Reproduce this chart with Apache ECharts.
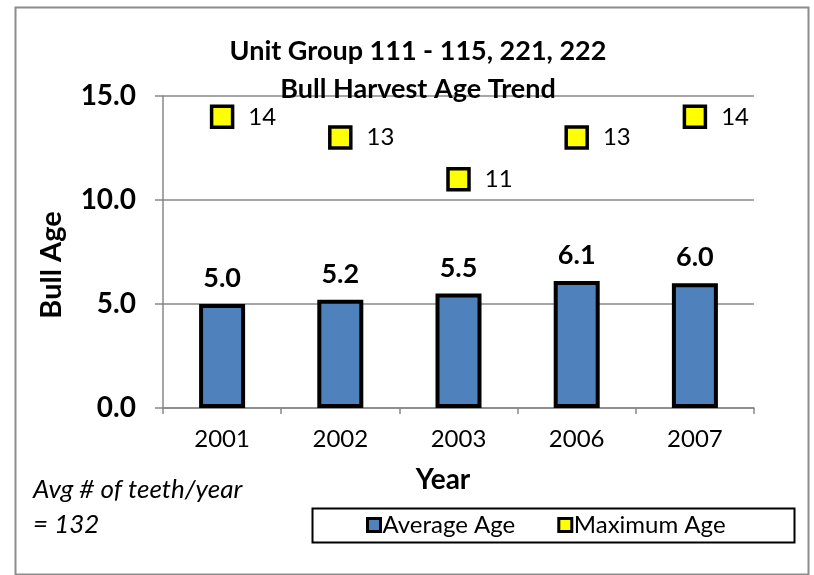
<!DOCTYPE html>
<html>
<head>
<meta charset="utf-8">
<script src="https://cdn.jsdelivr.net/npm/echarts@6/dist/echarts.min.js"></script>
<style>html,body{margin:0;padding:0;background:#fff}#c{width:814px;height:575px}</style>
</head>
<body>
<div id="c"></div>
<script>
const years = ['2001', '2002', '2003', '2006', '2007'];
const averageAge = [5.0, 5.2, 5.5, 6.1, 6.0];
const maximumAge = [14, 13, 11, 13, 14];
const yTicks = { min: 0, max: 15, interval: 5 };
const titleLines = ['Unit Group 111 - 115, 221, 222', 'Bull Harvest Age Trend'];
const noteLines = ['Avg # of teeth/year', '= 132'];

const FONT = 'Lato';
const chart = echarts.init(document.getElementById('c'), null, { renderer: 'canvas' });
chart.setOption({
  animation: false,
  backgroundColor: '#fff',
  textStyle: { fontFamily: FONT, color: '#000' },
  title: {
    text: titleLines.join('\n'),
    left: 413, top: 27, textAlign: 'center',
    textStyle: { fontFamily: FONT, fontWeight: 'bold', fontSize: 27, lineHeight: 38, color: '#000' }
  },
  grid: { left: 163, right: 60, top: 96, bottom: 167, containLabel: false },
  legend: {
    left: 361, top: 508,
    itemGap: 42, itemWidth: 13, itemHeight: 13,
    icon: 'rect',
    textStyle: { fontFamily: FONT, fontSize: 24, color: '#000', padding: [0, 0, 0, -3] },
    data: [
      { name: 'Average Age', itemStyle: { color: '#4F81BD', borderColor: '#000', borderWidth: 3 } },
      { name: 'Maximum Age', itemStyle: { color: '#FFFF00', borderColor: '#000', borderWidth: 3 } }
    ]
  },
  xAxis: {
    type: 'category', data: years, boundaryGap: true,
    axisLine: { lineStyle: { color: '#888', width: 1.5 } },
    axisTick: { show: true, length: 6, alignWithLabel: false, lineStyle: { color: '#888', width: 1.5 } },
    axisLabel: { fontFamily: FONT, fontSize: 24, color: '#000', margin: 19 }
  },
  yAxis: {
    type: 'value', min: yTicks.min, max: yTicks.max, interval: yTicks.interval,
    axisLine: { show: true, lineStyle: { color: '#888', width: 1.5 } },
    axisTick: { show: true, length: 8, lineStyle: { color: '#888', width: 1.5 } },
    splitLine: { show: true, lineStyle: { color: '#888', width: 1.5 } },
    axisLabel: { fontFamily: FONT, fontSize: 28, fontWeight: 'bold', color: '#000', margin: 27,
      formatter: v => v.toFixed(1) }
  },
  series: [
    {
      name: 'Average Age', type: 'bar', data: averageAge, barWidth: 46,
      itemStyle: { color: '#4F81BD', borderColor: '#000', borderWidth: 4 },
      label: { show: true, position: 'top', distance: 12, fontFamily: FONT, fontSize: 27, fontWeight: 'bold', color: '#000',
        formatter: p => p.value.toFixed(1) }
    },
    {
      name: 'Maximum Age', type: 'scatter', data: maximumAge, symbol: 'rect', symbolSize: 21,
      itemStyle: { color: '#FFFF00', borderColor: '#000', borderWidth: 3.5, opacity: 1 },
      label: { show: true, position: 'right', distance: 14, fontFamily: FONT, fontSize: 24, color: '#000',
        formatter: p => String(p.value) }
    }
  ],
  graphic: [
    { type: 'rect', left: 13, top: 5, shape: { width: 793, height: 567 }, z: -10, silent: true,
      style: { fill: 'none', stroke: '#8c8c8c', lineWidth: 2 } },
    { type: 'rect', left: 310, top: 506, shape: { width: 482, height: 34 }, silent: true,
      style: { fill: 'none', stroke: '#000', lineWidth: 2 } },
    { type: 'text', left: 33, top: 477, silent: true,
      style: { text: noteLines[0], font: 'italic 26px ' + FONT, fill: '#000' } },
    { type: 'text', left: 33, top: 512, silent: true,
      style: { text: noteLines[1], font: 'italic 26px ' + FONT, fill: '#000' } },
    { type: 'text', x: 443, y: 480, silent: true,
      style: { text: 'Year', font: 'bold 28px ' + FONT, fill: '#000', textAlign: 'center', textVerticalAlign: 'middle' } },
    { type: 'text', x: 52, y: 265, rotation: Math.PI / 2, silent: true,
      style: { text: 'Bull Age', font: 'bold 29px ' + FONT, fill: '#000', textAlign: 'center', textVerticalAlign: 'middle' } }
  ]
});
</script>
</body>
</html>
